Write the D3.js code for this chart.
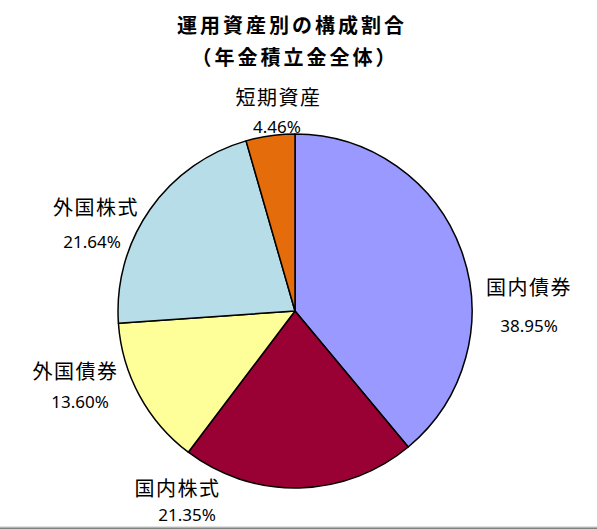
<!DOCTYPE html>
<html><head><meta charset="utf-8">
<script src="https://cdn.jsdelivr.net/npm/d3@7"></script>
<style>
html,body{margin:0;padding:0;background:#fff;}
svg{display:block;}
</style></head>
<body>
<script>
const titleLines = ["運用資産別の構成割合", "（年金積立金全体）"];
const categories = ["国内債券", "国内株式", "外国債券", "外国株式", "短期資産"];
const values = [38.95, 21.35, 13.60, 21.64, 4.46];
const valueLabels = ["38.95%", "21.35%", "13.60%", "21.64%", "4.46%"];
const colors = ["#9999FF", "#990033", "#FFFF99", "#B7DDE8", "#E46C0A"];

const W = 597, H = 529;
const cx = 295, cy = 311, R = 177;
// label anchor positions (name center, percentage center)
const labelPos = [
  {nx: 529, ny: 286, px: 529, py: 325},
  {nx: 177.5, ny: 487.5, px: 187, py: 514},
  {nx: 75.5, ny: 370, px: 80, py: 401},
  {nx: 96, ny: 206.5, px: 92, py: 241},
  {nx: 278.5, ny: 96, px: 277, py: 126}
];

const svg = d3.select("body").append("svg").attr("width", W).attr("height", H);

svg.selectAll("text.title").data(titleLines).enter().append("text")
  .attr("class", "title")
  .attr("x", (d, i) => i === 0 ? 292 : 295)
  .attr("y", (d, i) => 24 + i * 32)
  .attr("text-anchor", "middle")
  .attr("dominant-baseline", "central")
  .style("font-family", "'Noto Sans CJK JP', sans-serif")
  .style("font-weight", "bold")
  .style("font-size", "20px")
  .style("letter-spacing", "3px")
  .attr("fill", "#000")
  .text(d => d);

const data = categories.map((c, i) => ({name: c, value: values[i], label: valueLabels[i], color: colors[i], pos: labelPos[i]}));

const pie = d3.pie().sort(null).value(d => d.value).startAngle(0).endAngle(2 * Math.PI);
const arc = d3.arc().innerRadius(0).outerRadius(R);

const g = svg.append("g").attr("transform", `translate(${cx},${cy})`);
g.selectAll("path").data(pie(data)).enter().append("path")
  .attr("d", arc)
  .attr("fill", d => d.data.color)
  .attr("stroke", "#000")
  .attr("stroke-width", 1.5)
  .attr("stroke-linejoin", "round");

const lab = svg.selectAll("g.lab").data(data).enter().append("g").attr("class", "lab");
lab.append("text")
  .attr("x", d => d.pos.nx).attr("y", d => d.pos.ny)
  .attr("text-anchor", "middle").attr("dominant-baseline", "central")
  .style("font-family", "'Noto Sans CJK JP', sans-serif")
  .style("font-size", "20px")
  .style("letter-spacing", "1.5px")
  .attr("fill", "#000")
  .text(d => d.name);
lab.append("text")
  .attr("x", d => d.pos.px).attr("y", d => d.pos.py)
  .attr("text-anchor", "middle").attr("dominant-baseline", "central")
  .style("font-family", "'Noto Sans', sans-serif")
  .style("font-size", "17px")
  .attr("fill", "#000")
  .text(d => d.label);

svg.append("rect").attr("x", 0).attr("y", 526.5).attr("width", W).attr("height", 1).attr("fill", "#c8c8c8");
svg.append("rect").attr("x", 0).attr("y", 527.5).attr("width", W).attr("height", 1.5).attr("fill", "#808080");
</script>
</body></html>
